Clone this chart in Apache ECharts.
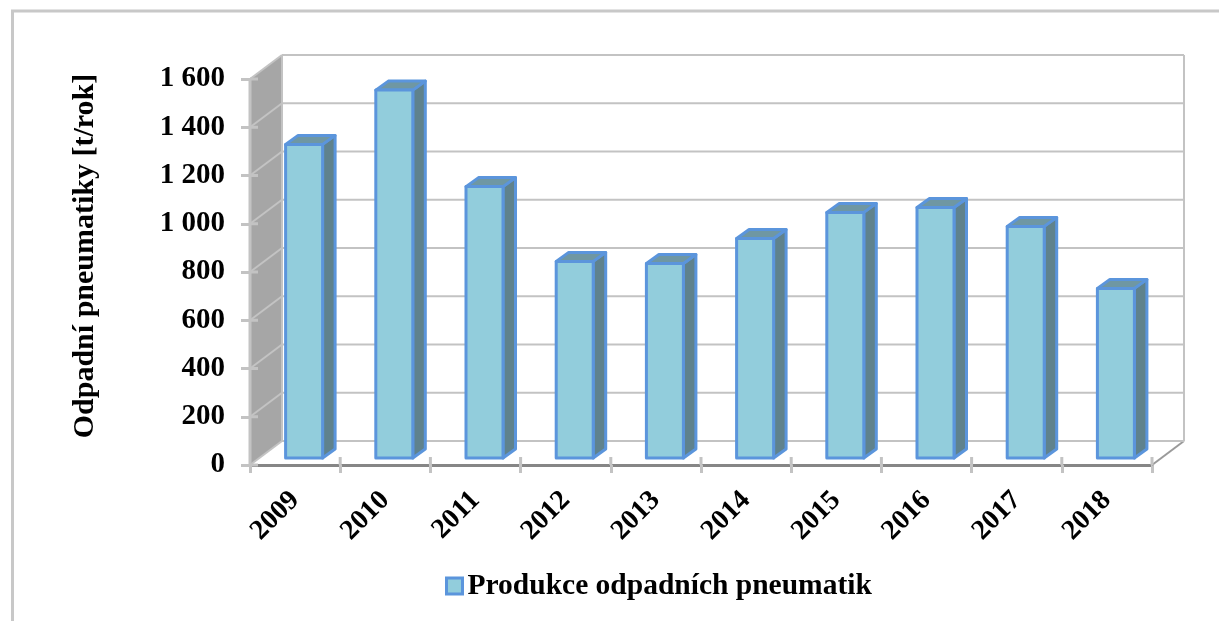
<!DOCTYPE html>
<html><head><meta charset="utf-8">
<style>html,body{margin:0;padding:0;background:#fff}#c{width:1219px;height:621px}</style>
<script src="https://cdn.jsdelivr.net/npm/echarts@6/dist/echarts.min.js"></script>
</head><body><div id="c"></div>
<script>
const categories = ['2009','2010','2011','2012','2013','2014','2015','2016','2017','2018'];
const values = [1300,1525,1125,815,806,910,1018,1038,960,703];
const yTicks = [0,200,400,600,800,1000,1200,1400,1600];
const seriesName = 'Produkce odpadních pneumatik';
const yTitle = 'Odpadní pneumatiky [t/rok]';

const FONT = '"Liberation Serif","Times New Roman",serif';
const DX = 32, DY = -24;           // floor depth
const BX = 9, BY = -7;             // bar inset
const DBX = 12.5, DBY = -9;        // bar depth
const BW = 37;
const GRID = '#c3c3c3';

function wallItem(params, api) {
  const band = api.size([1, 0])[0];
  const v = api.value(1);
  const p = api.coord([0, v]);
  const q = api.coord([categories.length - 1, v]);
  const x0 = p[0] - band / 2, x1 = q[0] + band / 2, y = p[1];
  const line = (a, b, c, d, w, col) => ({ type: 'line', shape: { x1: a, y1: b, x2: c, y2: d },
    style: { stroke: col || GRID, lineWidth: w || 2 }, silent: true });
  const children = [];
  if (params.dataIndex === 0) {
    const yTop = api.coord([0, yTicks[yTicks.length - 1]])[1];
    children.push({ type: 'polygon', shape: { points: [[x0, y], [x0 + DX, y + DY], [x0 + DX, yTop + DY], [x0, yTop]] },
      style: { fill: '#a6a6a6' }, silent: true });
    children.push(line(x0 + DX, y + DY, x0 + DX, yTop + DY));
    children.push(line(x1 + DX, y + DY, x1 + DX, yTop + DY));
    children.push(line(x1, y, x1 + DX, y + DY, 2, '#9a9a9a'));
    children.push(line(x0, yTop, x0, y, 3));
  }
  children.push(line(x0, y, x0 + DX, y + DY));
  children.push(line(x0 + DX, y + DY, x1 + DX, y + DY));
  children.push(line(x0, y, x0 + 8, y, 3));
  return { type: 'group', children };
}
function xTickInner(params, api) {
  const band = api.size([1, 0])[0];
  const p = api.coord([params.dataIndex, 0]);
  const x = p[0] + band / 2 , y = p[1];
  return { type: 'line', shape: { x1: x, y1: y - 8, x2: x, y2: y }, style: { stroke: GRID, lineWidth: 3 }, silent: true };
}
function barItem(params, api) {
  const i = api.value(0), v = api.value(1);
  const top = api.coord([i, v]), base = api.coord([i, 0]);
  const x0 = top[0] + BX - BW / 2, x1 = x0 + BW;
  const yT = top[1] + BY, yB = base[1] + BY;
  const st = { stroke: '#5b95dc', lineWidth: 3, lineJoin: 'round' };
  return { type: 'group', children: [
    { type: 'polygon', shape: { points: [[x1, yB], [x1 + DBX, yB + DBY], [x1 + DBX, yT + DBY], [x1, yT]] }, style: { fill: '#5f828d', ...st } },
    { type: 'polygon', shape: { points: [[x0, yT], [x0 + DBX, yT + DBY], [x1 + DBX, yT + DBY], [x1, yT]] }, style: { fill: '#6f97a3', ...st } },
    { type: 'rect', shape: { x: x0, y: yT, width: BW, height: yB - yT }, style: { fill: '#92cddc', ...st } }
  ] };
}
const chart = echarts.init(document.getElementById('c'), null, { renderer: 'canvas' });
chart.setOption({
  animation: false,
  backgroundColor: '#fff',
  graphic: [{ type: 'polyline', silent: true, z: 0,
    shape: { points: [[12.5, 621], [12.5, 11], [1219, 11]] },
    style: { stroke: '#c8c8c8', lineWidth: 3, fill: null } }],
  grid: { left: 250, right: 67, top: 79, bottom: 156, containLabel: false },
  legend: { left: 440, top: 566, itemWidth: 16, itemHeight: 16, icon: 'rect',
    data: [{ name: seriesName, itemStyle: { color: '#92cddc', borderColor: '#5b95dc', borderWidth: 3 } }],
    textStyle: { fontFamily: FONT, fontWeight: 'bold', fontSize: 29.5, color: '#000' } },
  xAxis: { type: 'category', data: categories, boundaryGap: true,
    axisLine: { lineStyle: { color: '#868686', width: 3 } },
    axisTick: { show: true, alignWithLabel: false, length: 8, lineStyle: { color: GRID, width: 3 } },
    axisLabel: { rotate: 45, margin: 31, color: '#000', fontFamily: FONT, fontWeight: 'bold', fontSize: 28, interval: 0 },
    splitLine: { show: false } },
  yAxis: { type: 'value', min: 0, max: 1600, interval: 200,
    name: yTitle, nameLocation: 'middle', nameGap: 150, nameRotate: 90,
    nameTextStyle: { fontFamily: FONT, fontWeight: 'bold', fontSize: 30, color: '#000', padding: [0, 0, 0, 32] },
    axisLine: { show: false },
    axisTick: { show: true, length: 9, lineStyle: { color: GRID, width: 3 } },
    axisLabel: { margin: 25, color: '#000', fontFamily: FONT, fontWeight: 'bold', fontSize: 29, padding: [6, 0, 0, 0],
      formatter: v => String(v).replace(/\B(?=(\d{3})+$)/g, ' ') },
    splitLine: { show: false } },
  series: [
    { type: 'custom', name: 'walls', renderItem: wallItem, clip: false, z: 1, silent: true,
      data: yTicks.map(t => [0, t]), encode: { x: 0, y: 1 } },
    { type: 'custom', name: 'xticks', renderItem: xTickInner, clip: false, z: 1, silent: true,
      data: categories.map((c, i) => [i, 0]), encode: { x: 0, y: 1 } },
    { type: 'custom', name: seriesName, renderItem: barItem, clip: false, z: 3,
      itemStyle: { color: '#92cddc' },
      data: values.map((v, i) => [i, v]), encode: { x: 0, y: 1 } }
  ]
});
</script></body></html>
